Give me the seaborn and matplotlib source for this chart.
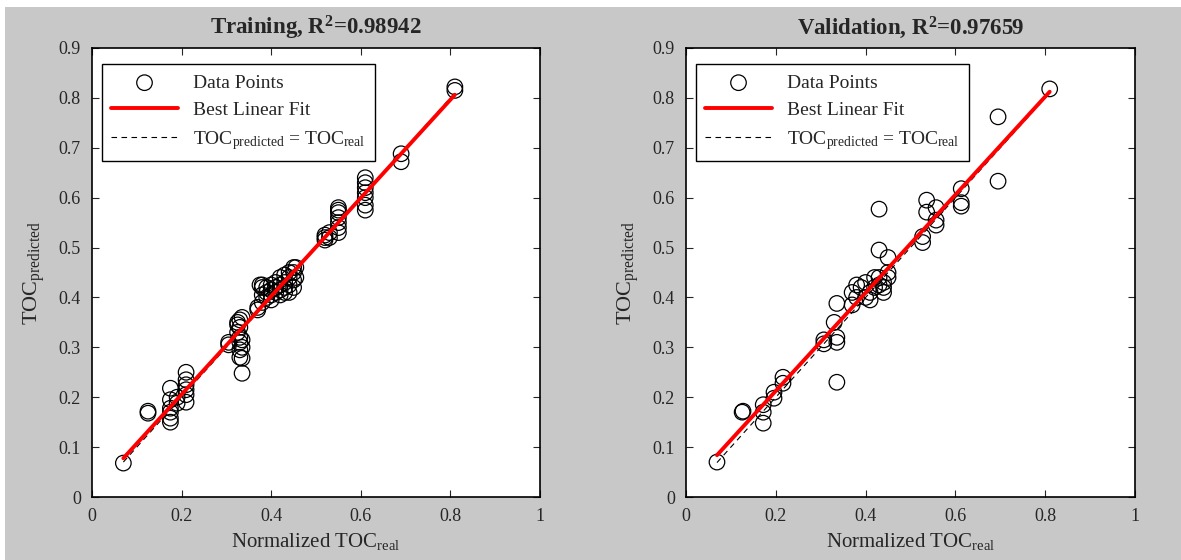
import numpy as np
import pandas as pd
import matplotlib
matplotlib.use("Agg")
import matplotlib.pyplot as plt
from matplotlib.patches import Rectangle
import seaborn as sns

# training set: normalized TOC real vs predicted
train_real = [0.07,
              0.125, 0.125,
              0.175, 0.175, 0.175, 0.175, 0.175, 0.175,
              0.19, 0.19,
              0.21, 0.21, 0.21, 0.21, 0.21, 0.21,
              0.305, 0.305,
              0.325, 0.325, 0.325,
              0.33, 0.33, 0.33, 0.33, 0.33, 0.33,
              0.335, 0.335, 0.335, 0.335, 0.335,
              0.37, 0.37, 0.375,
              0.38, 0.38, 0.38, 0.38,
              0.39, 0.39, 0.39,
              0.40, 0.40, 0.40, 0.40,
              0.41, 0.41, 0.41,
              0.42, 0.42, 0.42, 0.42,
              0.43, 0.43, 0.43, 0.43,
              0.44, 0.44, 0.44, 0.44,
              0.45, 0.45, 0.45, 0.45,
              0.455, 0.455,
              0.52, 0.52, 0.52,
              0.53, 0.53,
              0.55, 0.55, 0.55, 0.55, 0.55, 0.55, 0.55,
              0.61, 0.61, 0.61, 0.61, 0.61, 0.61, 0.61,
              0.69, 0.69,
              0.81, 0.81]
train_pred = [0.068,
              0.168, 0.172,
              0.15, 0.158, 0.17, 0.178, 0.195, 0.218,
              0.188, 0.2,
              0.19, 0.205, 0.215, 0.225, 0.235, 0.25,
              0.305, 0.31,
              0.33, 0.345, 0.35,
              0.28, 0.295, 0.31, 0.32, 0.34, 0.355,
              0.248, 0.278, 0.3, 0.315, 0.36,
              0.375, 0.38, 0.425,
              0.39, 0.405, 0.42, 0.425,
              0.4, 0.41, 0.42,
              0.395, 0.405, 0.415, 0.425,
              0.41, 0.42, 0.43,
              0.405, 0.415, 0.425, 0.44,
              0.41, 0.42, 0.43, 0.445,
              0.41, 0.425, 0.44, 0.45,
              0.42, 0.435, 0.45, 0.46,
              0.44, 0.46,
              0.515, 0.52, 0.525,
              0.52, 0.53,
              0.53, 0.54, 0.55, 0.56, 0.57, 0.575, 0.58,
              0.575, 0.585, 0.6, 0.61, 0.62, 0.63, 0.64,
              0.672, 0.688,
              0.815, 0.822]

# validation set
val_real = [0.069,
            0.125, 0.127,
            0.172, 0.172, 0.172,
            0.196, 0.196,
            0.216, 0.216,
            0.307, 0.307,
            0.33,
            0.336, 0.336, 0.336, 0.336,
            0.37, 0.37,
            0.38, 0.38,
            0.39,
            0.40, 0.40,
            0.41, 0.41,
            0.42, 0.42,
            0.43, 0.43, 0.43, 0.43,
            0.44, 0.44, 0.44,
            0.45, 0.45, 0.45,
            0.527, 0.527,
            0.536, 0.536,
            0.557, 0.557, 0.557,
            0.613, 0.613, 0.613,
            0.695, 0.695,
            0.81]
val_pred = [0.07,
            0.17, 0.172,
            0.185, 0.17, 0.148,
            0.21, 0.198,
            0.24, 0.228,
            0.315, 0.307,
            0.35,
            0.388, 0.32, 0.31, 0.23,
            0.385, 0.41,
            0.425, 0.40,
            0.42,
            0.40, 0.43,
            0.395, 0.41,
            0.42, 0.44,
            0.577, 0.495, 0.44, 0.425,
            0.41, 0.42, 0.43,
            0.48, 0.45, 0.44,
            0.522, 0.51,
            0.595, 0.571,
            0.58, 0.555, 0.545,
            0.618, 0.59, 0.583,
            0.762, 0.633,
            0.818]

titles = ["Training, R$^\\mathbf{2}$=0.98942", "Validation, R$^\\mathbf{2}$=0.97659"]
xticks = [0, 0.2, 0.4, 0.6, 0.8, 1]
yticks = [0, 0.1, 0.2, 0.3, 0.4, 0.5, 0.6, 0.7, 0.8, 0.9]

sns.set_style("ticks")
plt.rcParams["font.family"] = ["Liberation Serif", "DejaVu Serif"]
plt.rcParams["mathtext.fontset"] = "custom"
plt.rcParams["mathtext.rm"] = "Liberation Serif"
plt.rcParams["mathtext.it"] = "Liberation Serif:italic"
plt.rcParams["mathtext.bf"] = "Liberation Serif:bold"


def plot_panel(ax, real, pred, title):
    df = pd.DataFrame({"real": real, "pred": pred})

    sns.scatterplot(data=df, x="real", y="pred", ax=ax, marker="o", s=125,
                    facecolors="none", edgecolor="black", color="black",
                    linewidth=0.9, label="Data Points", zorder=2)

    # best linear fit over the data range
    k, d = np.polyfit(df.real, df.pred, 1)
    xs = np.array([df.real.min(), df.real.max()])
    ax.plot(xs, k * xs + d, color="red", lw=2.8, label="Best Linear Fit", zorder=4)
    ax.plot(xs, xs, color="black", lw=0.8, ls=(0, (5, 4)),
            label="TOC$_{\\mathrm{predicted}}$ = TOC$_{\\mathrm{real}}$", zorder=3)

    ax.set_xlim(0, 1)
    ax.set_ylim(0, 0.9)
    ax.set_xticks(xticks)
    ax.set_xticklabels(["0", "0.2", "0.4", "0.6", "0.8", "1"])
    ax.set_yticks(yticks)
    ax.set_yticklabels(["0", "0.1", "0.2", "0.3", "0.4", "0.5", "0.6", "0.7", "0.8", "0.9"])
    ax.tick_params(direction="in", length=5, width=0.8, top=True, right=True,
                   labelsize=13, pad=8)
    for s in ax.spines.values():
        s.set_linewidth(1.2)
        s.set_color("black")

    ax.set_title(title, fontsize=16.5, fontweight="bold", pad=10)
    ax.set_xlabel("Normalized TOC$_{\\mathrm{real}}$", fontsize=15, labelpad=4)
    ax.set_ylabel("TOC$_{\\mathrm{predicted}}$", fontsize=16, labelpad=8)

    leg = ax.legend(loc="upper left", fontsize=14, handlelength=3.4,
                    labelspacing=0.5, borderaxespad=0.5, borderpad=0.5,
                    fancybox=False, framealpha=1, edgecolor="black",
                    bbox_to_anchor=(0.0, 0.985))
    leg.get_frame().set_linewidth(1.0)


fig = plt.figure(figsize=(11.81, 5.6), dpi=100)
fig.patch.set_facecolor("white")
fig.patches.append(Rectangle((5 / 1181, 0), 1, 553 / 560, transform=fig.transFigure,
                             facecolor="#c8c8c8", edgecolor="none", zorder=-10))

ax1 = fig.add_axes([92 / 1181, 63 / 560, 448 / 1181, 449 / 560])
ax2 = fig.add_axes([686 / 1181, 63 / 560, 449 / 1181, 449 / 560])

plot_panel(ax1, train_real, train_pred, titles[0])
plot_panel(ax2, val_real, val_pred, titles[1])

fig.savefig("out.png", dpi=100, facecolor=fig.get_facecolor())
